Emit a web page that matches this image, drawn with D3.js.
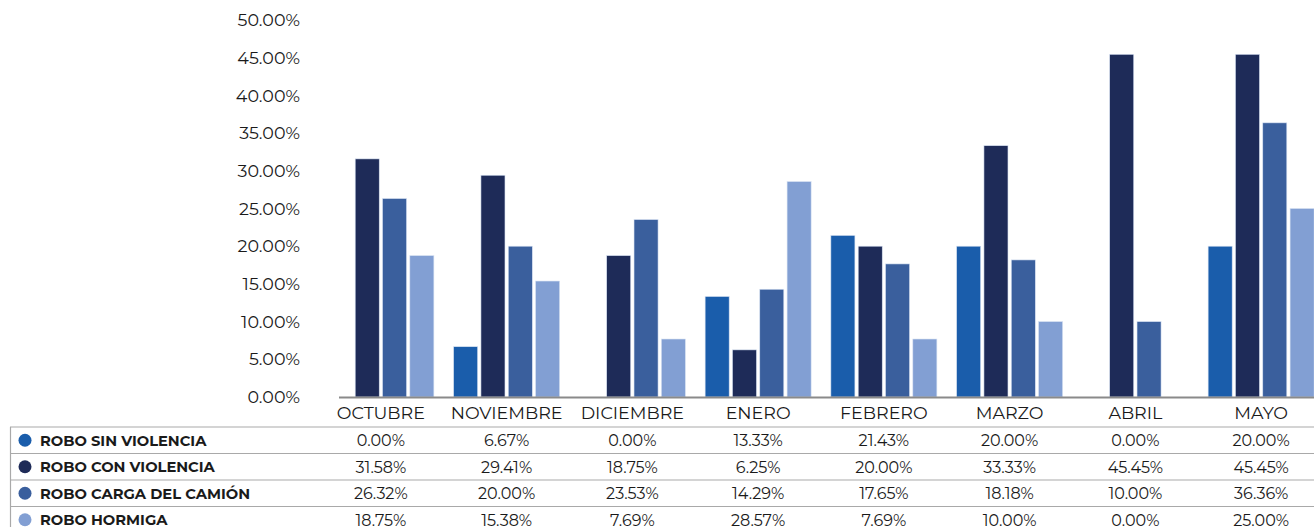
<!DOCTYPE html>
<html>
<head>
<meta charset="utf-8">
<script src="https://cdn.jsdelivr.net/npm/d3@7"></script>
<style>
  body { margin: 0; background: #fff; overflow: hidden; }
  svg text { font-family: Montserrat, "DejaVu Sans", sans-serif; fill: #1a1a1a; }
</style>
</head>
<body>
<div id="chart"></div>
<script>
// Data
var months = ['OCTUBRE', 'NOVIEMBRE', 'DICIEMBRE', 'ENERO', 'FEBRERO', 'MARZO', 'ABRIL', 'MAYO'];
var seriesNames = ['ROBO SIN VIOLENCIA', 'ROBO CON VIOLENCIA', 'ROBO CARGA DEL CAMIÓN', 'ROBO HORMIGA'];
var sinViolencia = [0.00, 6.67, 0.00, 13.33, 21.43, 20.00, 0.00, 20.00];
var conViolencia = [31.58, 29.41, 18.75, 6.25, 20.00, 33.33, 45.45, 45.45];
var cargaCamion = [26.32, 20.00, 23.53, 14.29, 17.65, 18.18, 10.00, 36.36];
var hormiga = [18.75, 15.38, 7.69, 28.57, 7.69, 10.00, 0.00, 25.00];
var yTicks = [0, 5, 10, 15, 20, 25, 30, 35, 40, 45, 50];

var seriesValues = [sinViolencia, conViolencia, cargaCamion, hormiga];
var colors = ['#1a5dab', '#1e2b58', '#3a5f9d', '#829fd3'];

// Setup
var width = 1314, height = 527;
var svg = d3.select('#chart')
  .append('svg')
  .attr('width', width)
  .attr('height', height);

var x = d3.scaleBand()
  .domain(months)
  .range([318, 1324])
  .paddingInner(0)
  .paddingOuter(0);

var xInner = d3.scaleBand()
  .domain(d3.range(seriesNames.length))
  .range([0, 106])
  .paddingInner(0.12);

var groupOffset = (x.bandwidth() - 106) / 2;

var y = d3.scaleLinear()
  .domain([0, 50])
  .range([397, 20]);

// Y tick labels (no axis line)
svg.append('g')
  .attr('transform', 'translate(300,0)')
  .call(d3.axisLeft(y).tickValues(yTicks).tickSize(0).tickPadding(0)
    .tickFormat(function(d) { return d.toFixed(2) + '%'; }))
  .call(function(g) { g.select('.domain').remove(); })
  .selectAll('text')
  .style('font-size', '17.5px')
  .style('font-family', 'Montserrat, "DejaVu Sans", sans-serif')
  .attr('fill', '#1a1a1a');

// Bars
var groups = svg.selectAll('.month')
  .data(months)
  .enter()
  .append('g')
  .attr('class', 'month')
  .attr('transform', function(d) { return 'translate(' + (x(d) + groupOffset) + ',0)'; });

groups.selectAll('rect')
  .data(function(m, j) {
    return seriesValues.map(function(s, i) { return {i: i, v: s[j]}; });
  })
  .enter()
  .append('rect')
  .filter(function(d) { return d.v > 0; })
  .attr('x', function(d) { return xInner(d.i); })
  .attr('y', function(d) { return y(d.v); })
  .attr('width', xInner.bandwidth())
  .attr('height', function(d) { return y(0) - y(d.v); })
  .attr('fill', function(d) { return colors[d.i]; })
  .attr('stroke', '#d8e2f2')
  .attr('stroke-width', 0.6);

// X axis line
svg.append('line')
  .attr('x1', 339).attr('x2', width)
  .attr('y1', y(0) + 0.5).attr('y2', y(0) + 0.5)
  .attr('stroke', '#8a8a8a')
  .attr('stroke-width', 2);

// Month labels
svg.selectAll('.month-label')
  .data(months)
  .enter()
  .append('text')
  .attr('class', 'month-label')
  .attr('x', function(d) { return x(d) + x.bandwidth() / 2; })
  .attr('y', 418.5)
  .attr('text-anchor', 'middle')
  .style('font-size', '17.5px')
  .text(function(d) { return d; });

// Table
var rowTop = 427, rowH = 26.5;
var table = svg.append('g').attr('class', 'table');

d3.range(seriesNames.length).forEach(function(i) {
  table.append('line')
    .attr('x1', 10).attr('x2', width)
    .attr('y1', rowTop + i * rowH).attr('y2', rowTop + i * rowH)
    .attr('stroke', '#a9a9a9')
    .attr('stroke-width', 1.2);
});
table.append('line')
  .attr('x1', 10.5).attr('x2', 10.5)
  .attr('y1', rowTop).attr('y2', height)
  .attr('stroke', '#a9a9a9')
  .attr('stroke-width', 1.2);

var rows = table.selectAll('.row')
  .data(seriesNames)
  .enter()
  .append('g')
  .attr('class', 'row')
  .attr('transform', function(d, i) { return 'translate(0,' + (rowTop + i * rowH + rowH / 2) + ')'; });

rows.append('circle')
  .attr('cx', 25)
  .attr('cy', 0)
  .attr('r', 6.5)
  .attr('fill', function(d, i) { return colors[i]; });

rows.append('text')
  .attr('x', 40)
  .attr('dy', '0.36em')
  .style('font-size', '14.7px')
  .style('font-weight', 'bold')
  .text(function(d) { return d; });

rows.each(function(name, i) {
  d3.select(this).selectAll('.val')
    .data(seriesValues[i])
    .enter()
    .append('text')
    .attr('class', 'val')
    .attr('x', function(d, j) { return x(months[j]) + x.bandwidth() / 2; })
    .attr('dy', '0.36em')
    .attr('text-anchor', 'middle')
    .style('font-size', '16px')
    .text(function(d) { return d.toFixed(2) + '%'; });
});
</script>
</body>
</html>
